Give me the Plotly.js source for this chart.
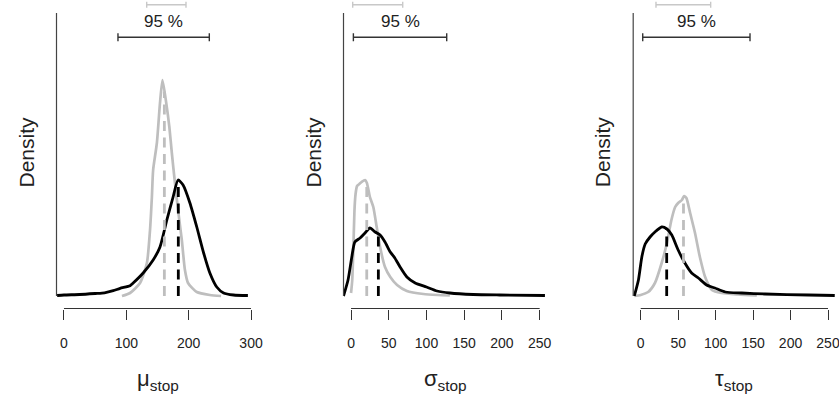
<!DOCTYPE html>
<html><head><meta charset="utf-8">
<script src="https://cdn.plot.ly/plotly-3.0.1.min.js"></script>
<style>html,body{margin:0;padding:0;background:#fff}#chart{width:839px;height:396px}</style>
</head><body><div id="chart"></div>
<script>
// ---------- data ----------
const paramNames = ['μ', 'σ', 'τ'];
const paramSub = 'stop';
const yLabel = 'Density';
const intervalLabel = '95 %';
const xTickVals = [[0, 100, 200, 300], [0, 50, 100, 150, 200, 250], [0, 50, 100, 150, 200, 250]];
const xRanges = [[-12, 312], [-10, 260], [-10, 260]];

// mu_stop
const muGrayX  = [93, 106, 122, 133, 138, 141, 143, 149, 154, 158, 164, 169, 173, 178, 183, 189, 194, 199, 213, 234, 252];
const muGrayY  = [0, 0.0003, 0.0013, 0.0033, 0.0066, 0.0099, 0.0126, 0.0153, 0.0193, 0.0216, 0.0193, 0.0169, 0.0143, 0.0113, 0.0086, 0.0056, 0.0026, 0.0013, 0.0004, 0.0001, 0];
const muBlackX = [-11, 0, 25, 50, 65, 79, 90, 106, 111, 127, 143, 154, 165, 175, 183, 191, 202, 213, 224, 234, 245, 256, 272, 295];
const muBlackY = [0.00005, 0.0001, 0.00015, 0.00025, 0.00032, 0.00053, 0.00077, 0.00103, 0.0013, 0.0023, 0.0036, 0.0049, 0.0076, 0.0099, 0.0116, 0.0111, 0.0093, 0.0069, 0.0043, 0.0023, 0.0009, 0.0003, 0.0001, 0.00005];
const muMedians = [161, 183.4];            // gray, black
const muGrayCI  = [132.7, 195.7];
const muBlackCI = [86.6, 233.1];

// sigma_stop
const sigmaGrayX  = [0, 1.5, 3, 4.5, 6, 8, 11, 14, 18.5, 21, 25, 29.5, 34, 38.5, 45, 52, 61, 74, 96, 115, 131];
const sigmaGrayY  = [0.0003, 0.0015, 0.0045, 0.0085, 0.0102, 0.011, 0.0112, 0.0114, 0.0116, 0.0113, 0.0099, 0.0089, 0.0069, 0.0049, 0.0029, 0.0019, 0.0011, 0.0005, 0.0002, 0.0001, 0.00005];
const sigmaBlackX = [-10, -4, 1, 5, 12, 18.5, 25, 32, 38.5, 45, 52, 58, 65, 74, 85, 100, 114, 131, 162, 197, 257];
const sigmaBlackY = [0, 0.0016, 0.0039, 0.0054, 0.0058, 0.0063, 0.0068, 0.0064, 0.0061, 0.0054, 0.0044, 0.0038, 0.0029, 0.0019, 0.0013, 0.0009, 0.0005, 0.0003, 0.00015, 0.0001, 0.00005];
const sigmaMedians = [20.8, 36.2];
const sigmaGrayCI  = [2.2, 68.5];
const sigmaBlackCI = [3.1, 126.8];

// tau_stop
const tauGrayX  = [-8.5, 0, 10, 19, 28, 35, 41, 46, 50, 55, 58, 61, 66, 72.5, 79, 86, 95, 108, 130, 155];
const tauGrayY  = [0, 0.0001, 0.0004, 0.0013, 0.0033, 0.0053, 0.0076, 0.0089, 0.0093, 0.0096, 0.01, 0.0098, 0.0083, 0.0063, 0.0039, 0.0019, 0.0006, 0.0003, 0.00015, 0.00005];
const tauBlackX = [-8.5, -3, 1.5, 6, 12.5, 19, 28, 35, 41.5, 50, 59, 68, 77, 88, 99, 113, 135, 166, 224, 259];
const tauBlackY = [0, 0.0016, 0.0039, 0.0052, 0.0059, 0.0064, 0.0069, 0.0067, 0.0061, 0.0046, 0.0033, 0.0023, 0.0018, 0.0011, 0.0008, 0.0004, 0.0003, 0.0002, 0.0001, 0.00005];
const tauMedians = [57.1, 34.7];
const tauGrayCI  = [20.4, 93.4];
const tauBlackCI = [2.7, 145.9];

const yTop = 0.0283;

// ---------- layout helpers ----------
const W = 839, H = 396;
const px = p => p / W;
const py = p => (H - p) / H;
const GRAY = '#BEBEBE', BLACK = '#000000', AXIS = '#333333';
const FONT = 'Liberation Sans, Arial, Helvetica, sans-serif';
const xDomainsPx = [[56.5, 258.5], [343.5, 547.2], [633.2, 835.5]];
const plotTopPx = 13, plotBottomPx = 303, axisPx = 308.5;

function interp(xs, ys, x) {
  for (let i = 0; i < xs.length - 1; i++) {
    if (x >= xs[i] && x <= xs[i + 1]) {
      const t = (x - xs[i]) / (xs[i + 1] - xs[i]);
      return ys[i] + t * (ys[i + 1] - ys[i]);
    }
  }
  return 0;
}

const panels = [
  {gx: muGrayX, gy: muGrayY, bx: muBlackX, by: muBlackY, med: muMedians, gci: muGrayCI, bci: muBlackCI},
  {gx: sigmaGrayX, gy: sigmaGrayY, bx: sigmaBlackX, by: sigmaBlackY, med: sigmaMedians, gci: sigmaGrayCI, bci: sigmaBlackCI},
  {gx: tauGrayX, gy: tauGrayY, bx: tauBlackX, by: tauBlackY, med: tauMedians, gci: tauGrayCI, bci: tauBlackCI}
];

const traces = [], shapes = [], annotations = [];
const layout = {
  width: W, height: H, margin: {l: 0, r: 0, t: 0, b: 0},
  paper_bgcolor: '#fff', plot_bgcolor: '#fff', showlegend: false,
  font: {family: FONT, color: '#222'}
};

panels.forEach((p, i) => {
  const n = i === 0 ? '' : String(i + 1);
  const xa = 'x' + n, ya = 'y' + n;
  const yBottom = -yTop * (plotBottomPx - 296) / (296 - plotTopPx);
  layout['xaxis' + n] = {
    domain: [px(xDomainsPx[i][0]), px(xDomainsPx[i][1])],
    range: xRanges[i], anchor: 'free', position: py(axisPx),
    showgrid: false, zeroline: false, showline: false,
    ticks: 'outside', ticklen: 10, tickwidth: 1, tickcolor: AXIS,
    tickmode: 'array', tickvals: xTickVals[i], ticktext: xTickVals[i].map(String),
    tickfont: {size: 14, family: FONT, color: '#222'}, ticklabelstandoff: 12,
    ticklabeloverflow: 'allow',
    fixedrange: true
  };
  layout['yaxis' + n] = {
    domain: [py(plotBottomPx), py(plotTopPx)], range: [yBottom, yTop], anchor: xa,
    showgrid: false, zeroline: false, showline: false, showticklabels: false, ticks: '',
    fixedrange: true
  };
  const curve = {shape: 'spline', smoothing: 0.6};
  traces.push({x: p.gx, y: p.gy, xaxis: xa, yaxis: ya, mode: 'lines', line: Object.assign({color: GRAY, width: 2.7}, curve), hoverinfo: 'skip'});
  traces.push({x: p.bx, y: p.by, xaxis: xa, yaxis: ya, mode: 'lines', line: Object.assign({color: BLACK, width: 2.8}, curve), hoverinfo: 'skip'});
  traces.push({x: [p.med[0], p.med[0]], y: [0, interp(p.gx, p.gy, p.med[0])], xaxis: xa, yaxis: ya, mode: 'lines',
    line: {color: GRAY, width: 2.8, dash: '10px,6.5px'}, hoverinfo: 'skip'});
  traces.push({x: [p.med[1], p.med[1]], y: [0, interp(p.bx, p.by, p.med[1])], xaxis: xa, yaxis: ya, mode: 'lines',
    line: {color: BLACK, width: 2.8, dash: '10px,6.5px'}, hoverinfo: 'skip'});

  // y axis line (0 .. top)
  shapes.push({type: 'line', xref: xa + ' domain', x0: 0, x1: 0, yref: ya, y0: 0, y1: yTop, line: {color: '#444', width: 1.2}});
  // x axis line between first and last tick
  const tv = xTickVals[i];
  shapes.push({type: 'line', xref: xa, x0: tv[0], x1: tv[tv.length - 1], yref: 'paper', y0: py(axisPx), y1: py(axisPx), line: {color: AXIS, width: 1}});

  // 95 % interval bars
  const bars = [{ci: p.gci, yp: 4.7, cap: 3, color: '#C8C8C8'}, {ci: p.bci, yp: 37.3, cap: 4, color: '#333333'}];
  bars.forEach(b => {
    shapes.push({type: 'line', xref: xa, x0: b.ci[0], x1: b.ci[1], yref: 'paper', y0: py(b.yp), y1: py(b.yp), line: {color: b.color, width: 1.6}});
    b.ci.forEach(v => shapes.push({type: 'line', xref: xa, x0: v, x1: v, yref: 'paper', y0: py(b.yp - b.cap), y1: py(b.yp + b.cap), line: {color: b.color, width: 1.4}}));
  });
  annotations.push({text: intervalLabel, xref: xa, x: (p.bci[0] + p.bci[1]) / 2, yref: 'paper', y: py(21.5),
    xanchor: 'center', yanchor: 'middle', showarrow: false, font: {size: 17, family: FONT, color: '#222'}});
  // y label
  annotations.push({text: yLabel, xref: xa + ' domain', x: 0, xshift: -31, yref: 'paper', y: py(152),
    xanchor: 'center', yanchor: 'middle', textangle: -90, showarrow: false, font: {size: 21, family: FONT, color: '#222'}});
  // x label
  annotations.push({text: paramNames[i] + '<sub>' + paramSub + '</sub>', xref: xa + ' domain', x: 0.5, yref: 'paper', y: py(380),
    xanchor: 'center', yanchor: 'middle', showarrow: false, font: {size: 22, family: FONT, color: '#222'}});
});

layout.shapes = shapes;
layout.annotations = annotations;
Plotly.newPlot('chart', traces, layout, {staticPlot: true, displayModeBar: false});
</script>
</body></html>
